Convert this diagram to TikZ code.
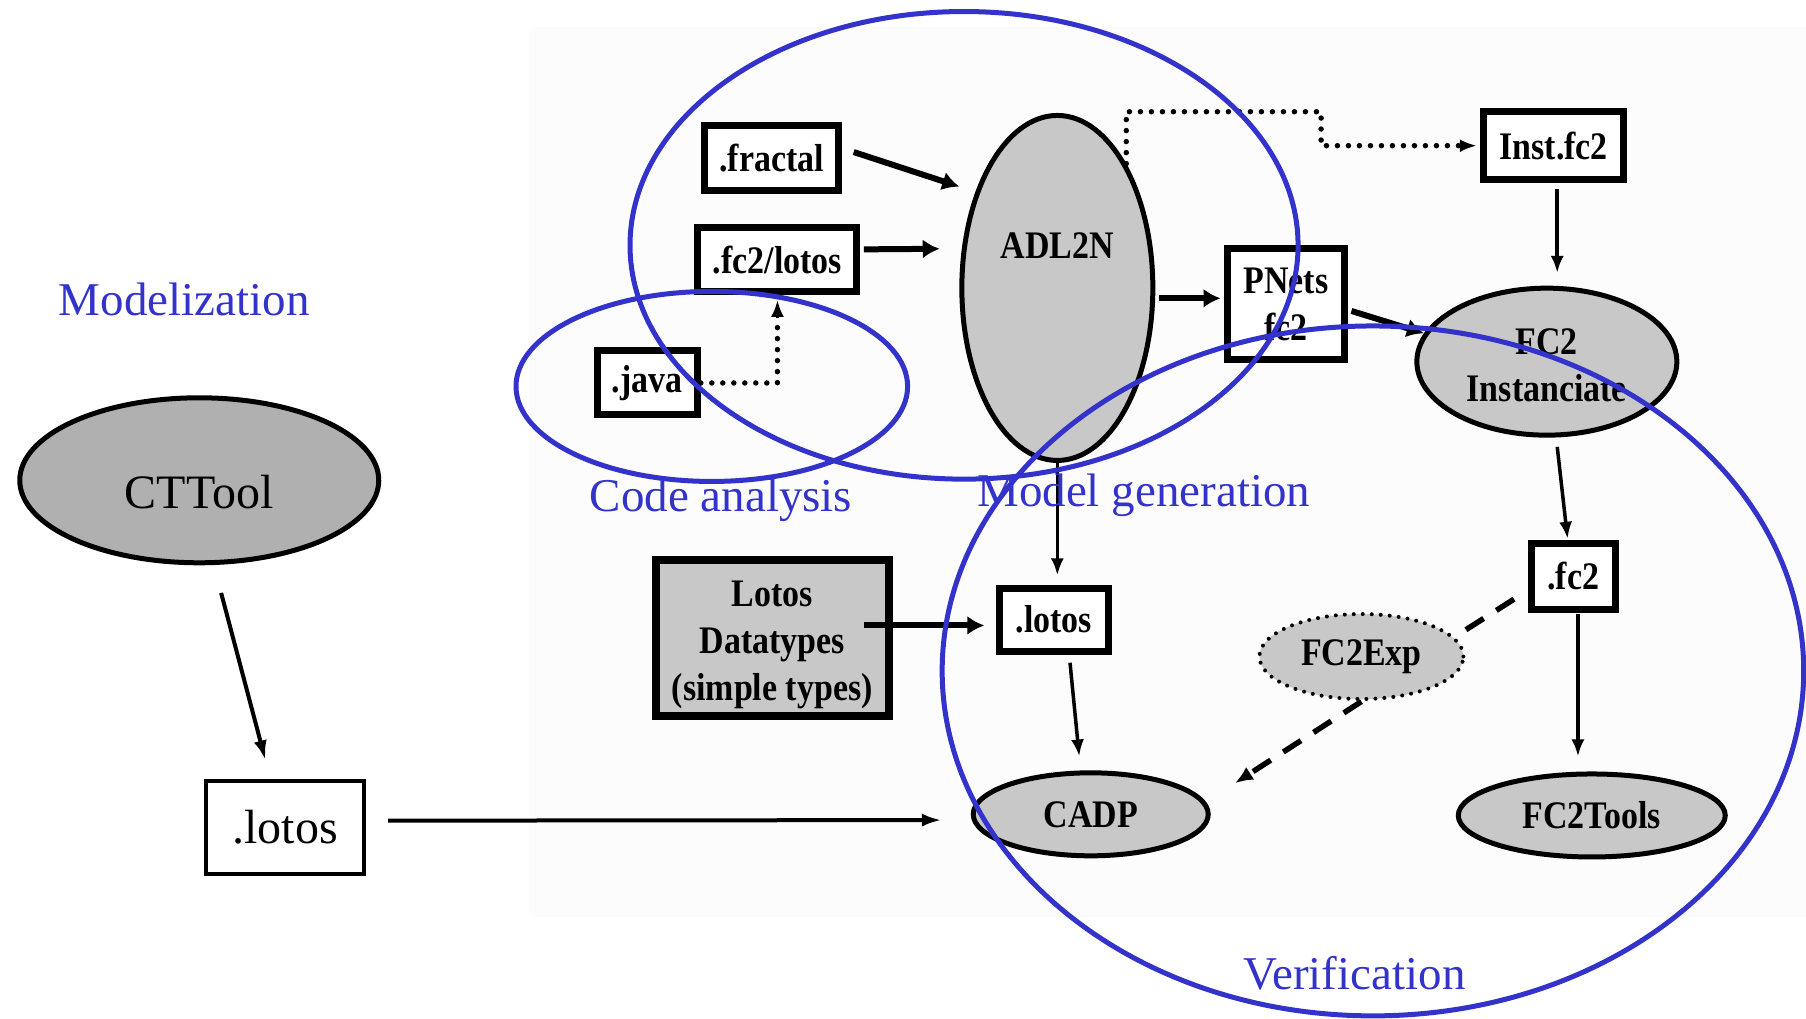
\documentclass[tikz,border=0pt]{standalone}
\usepackage{fontspec}
\setmainfont{Liberation Serif}
\newfontfamily\cb[FakeStretch=0.87]{Liberation Serif}
\usetikzlibrary{shapes.geometric,arrows.meta,calc}
\definecolor{bl}{RGB}{51,51,204}
\definecolor{ng}{RGB}{200,200,200}
\definecolor{ctg}{RGB}{176,176,176}
\definecolor{bgc}{RGB}{252,252,252}
\begin{document}
\begin{tikzpicture}[x=1.1518pt,y=-1.1518pt,
  bfont/.style={font=\cb\bfseries\fontsize{39}{47}\selectfont},
  bbox/.style={draw, line width=7pt, fill=white, inner sep=0pt, bfont, align=center},
  gell/.style={ellipse, draw, line width=5pt, fill=ng, inner sep=0pt, bfont, align=center},
  thk/.style={line width=6pt, -{Latex[length=17pt,width=19pt]}},
  thn/.style={line width=3.5pt, -{Latex[length=17pt,width=13pt]}},
  lft/.style={line width=4pt, -{Latex[length=20pt,width=13pt]}},
  dotl/.style={line width=5.5pt, line cap=round, dash pattern=on 0pt off 11pt},
  dsh/.style={line width=5.5pt, dash pattern=on 21pt off 15pt},
  blueell/.style={draw=bl, line width=5pt},
  bluelab/.style={text=bl, inner sep=0pt, font=\fontsize{47}{50}\selectfont},
  rfont/.style={font=\fontsize{48}{50}\selectfont}
]
\useasboundingbox (0,0) rectangle (1568,884);
\fill[white] (0,0) rectangle (1568,884);
\fill[bgc] (459,23.5) rectangle (1568,796);

% left part
\node[bluelab] (lmod) at (160,260) {Modelization};
\node[ellipse, draw, line width=5pt, fill=ctg, minimum width=359pt, minimum height=165pt, inner sep=0pt] (cttool) at (173,417) {};
\node[rfont, inner sep=0pt] (cttooltxt) at (173,427) {CTTool};
\node[draw, line width=4.5pt, fill=white, minimum width=158pt, minimum height=93pt, inner sep=0pt, rfont] (lotosl) at (247.5,718.5) {.lotos};

% boxes
\node[bbox, minimum width=134pt, minimum height=65pt] (fractal) at (670,137) {.fractal};
\node[bbox, minimum width=159pt, minimum height=64pt] (fc2lotos) at (675,225.5) {.fc2/lotos};
\node[bbox, minimum width=100pt, minimum height=64pt] (java) at (562,332.5) {.java};
\node[bbox, minimum width=117pt, minimum height=111pt] (pnets) at (1116.5,264) {PNets\\fc2};
\node[bbox, minimum width=140pt, minimum height=68pt] (inst) at (1349,126.5) {Inst.fc2};
\node[bbox, minimum width=84pt, minimum height=66pt] (fc2box) at (1366,500.5) {.fc2};
\node[bbox, minimum width=109pt, minimum height=63pt] (lotosb) at (915,538) {.lotos};
\node[bbox, line width=8pt, fill=ng, minimum width=233pt, minimum height=156pt] (dt) at (670.5,554) {};
\node[bfont, align=center, inner sep=0pt] (dttxt) at (670.5,560) {Lotos\\Datatypes\\(simple types)};

% ellipses
\node[gell, minimum width=191pt, minimum height=345pt] (adl) at (918,250) {};
\node[bfont, inner sep=0pt] (adltxt) at (918,213) {ADL2N};
\node[gell, minimum width=260pt, minimum height=147pt] (fc2i) at (1343,314) {};
\node[bfont, align=center, inner sep=0pt] (fc2itxt) at (1343,317) {FC2\\Instanciate};
\node[gell, draw=none, minimum width=204pt, minimum height=85pt] (fc2e) at (1182,570) {FC2Exp};
\draw[line width=4pt, line cap=round, dash pattern=on 0pt off 9pt] (fc2e.center) ellipse [x radius=102pt, y radius=42.5pt];
\node[gell, minimum width=235pt, minimum height=83pt] (cadp) at (947,707) {CADP};
\node[gell, minimum width=267pt, minimum height=83pt] (fc2t) at (1382,708) {FC2Tools};

% connectors
\draw[lft] ($(cttool.south)+(19,24)$) -- ($(lotosl.north)+(-17,-16)$);
\draw[lft] ($(lotosl.east)+(19,-6)$) -- ($(cadp.west)+(-25,5)$);
\draw[thk] ($(fractal.east)+(10,-5)$) -- ($(adl.west)+(0,-88)$);
\draw[thk] ($(fc2lotos.east)+(3,-9)$) -- ($(adl.west)+(-17,-34)$);
\draw[dotl] (java.east) -| ($(fc2lotos.south)+(0,20)$);
\draw[thn] ($(fc2lotos.south)+(0,20)$) -- ($(fc2lotos.south)+(0,4)$);
\draw[thk] ($(adl.east)+(3,9)$) -- ($(pnets.west)+(-3,-5)$);
\coordinate (d1) at (1147,97);
\draw[dotl] (adl.61) |- (d1) |- ($(inst.west)+(-14,0)$);
\draw[thn] ($(inst.west)+(-16,0)$) -- ($(inst.west)+(-3,0)$);
\draw[thn] ($(inst.south)+(3,5)$) -- ($(fc2i.north)+(9,-11)$);
\draw[thk] ($(pnets.east)+(3,6)$) -- (fc2i.167);
\draw[thn] ($(fc2i.south)+(9,8)$) -- ($(fc2box.north)+(-5,-1)$);
\draw[thn] (adl.south) -- ($(adl.south |- lotosb.north)+(0,-8)$);
\draw[thk] ($(dt.east)+(-25,-11)$) -- ($(lotosb.west)+(-10,5)$);
\draw[thn] ($(lotosb.south)+(14,7)$) -- ($(cadp.north)+(-10,-12)$);
\draw[thn] ($(fc2box.south)+(4,1)$) -- ($(fc2t.north)+(-12,-13)$);
\draw[dsh] ($(fc2box.south west)+(-12,-12)$) -- (fc2e.12);
\draw[dsh, -{Latex[length=18pt,width=15pt]}] (fc2e.south) -- ($(cadp.east)+(21,-27)$);

% blue regions
\draw[blueell] (837,213) ellipse [x radius=290, y radius=203];
\draw[blueell] (618,335.5) ellipse [x radius=170, y radius=82.5];
\draw[blueell] (1192,582.5) ellipse [x radius=374, y radius=299.5];
\node[bluelab] (lcode) at (626,434) {Code analysis};
\node[bluelab] (lmodel) at (993,430) {Model generation};
\node[bluelab] (lverif) at (1176,845) {Verification};
\end{tikzpicture}
\end{document}
